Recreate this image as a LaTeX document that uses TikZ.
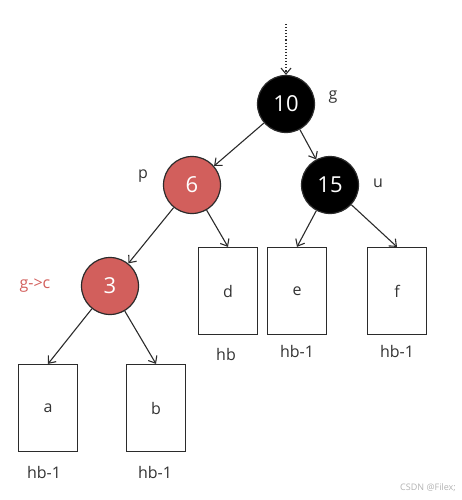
\documentclass[tikz,border=0pt]{standalone}
\usepackage{fontspec}
\setmainfont{Open Sans}
\usetikzlibrary{arrows.meta}
\definecolor{redn}{HTML}{D25F5C}
\definecolor{lin}{HTML}{2B2B2B}
\definecolor{lbl}{HTML}{333333}
\begin{document}
\begin{tikzpicture}[x=1pt,y=-1pt,
  rb/.style={circle,draw=lin,line width=1.2pt,minimum size=57pt,inner sep=0pt,font=\fontsize{22}{24}\selectfont,text=white},
  redc/.style={rb,fill=redn},
  blkc/.style={rb,fill=black},
  leaf/.style={rectangle,draw=lin,line width=1.2pt,minimum width=59pt,minimum height=87pt,inner sep=0pt,font=\fontsize{16}{18}\selectfont,text=lbl},
  lab/.style={font=\fontsize{16}{18}\selectfont,text=lbl,inner sep=0pt},
  arr/.style={draw=lin,line width=1.1pt,-{Straight Barb[length=6pt,width=10pt,line width=1.1pt]}}
]
\useasboundingbox (0,0) rectangle (461,500);
\node[blkc] (n10) at (286,104) {10};
\node[redc] (n6) at (192,185) {6};
\node[blkc] (n15) at (330,185) {15};
\node[redc] (n3) at (110,286) {3};
\node[leaf] (a) at (48,408) {a};
\node[leaf] (b) at (156,408) {b};
\node[leaf] (d) at (228,291) {d};
\node[leaf] (e) at (297,291) {e};
\node[leaf] (f) at (397,291) {f};
\coordinate (top) at (286,24);
\node[lab] (lg) at (333,97) {g};
\node[lab] (lp) at (143,176) {p};
\node[lab] (lu) at (378,183) {u};
\node[lab,text=redn] (lgc) at (35,286) {g->c};
\node[lab] (hd) at (226,354) {hb};
\node[lab] (he) at (297,351) {hb-1};
\node[lab] (hf) at (397,351) {hb-1};
\node[lab] (ha) at (44,472) {hb-1};
\node[lab] (hbb) at (155,472) {hb-1};
\draw[arr,dotted,line width=1.2pt] (top) -- (n10.north);
\draw[arr] (n10) -- (n6);
\draw[arr] (n10) -- (n15);
\draw[arr] (n6) -- (n3);
\draw[arr] (n6) -- (d.north);
\draw[arr] (n15) -- (e.north);
\draw[arr] (n15) -- (f.north);
\draw[arr] (n3) -- (a.north);
\draw[arr] (n3) -- (b.north);
\node[font=\fontsize{9}{10}\selectfont,text=gray!60,anchor=east,inner sep=0pt] (wm) at (456,488) {CSDN @Filex;};
\end{tikzpicture}
\end{document}
